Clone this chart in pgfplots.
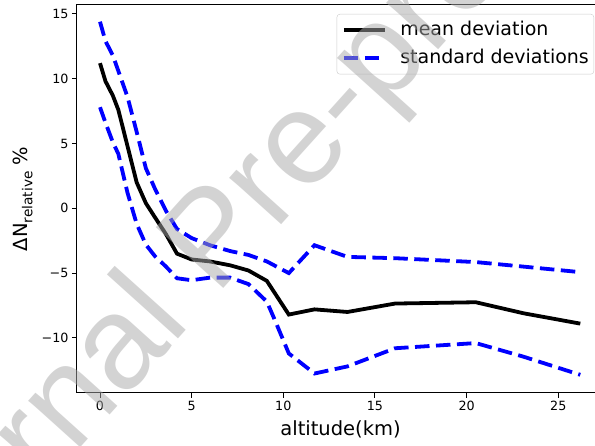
\documentclass[border=0pt]{standalone}
\usepackage{pgfplots}
\pgfplotsset{compat=1.18}
\usepackage{fontspec}
\setmainfont{DejaVu Sans}
\newfontfamily\wmfont{Liberation Sans}
\definecolor{wmgray}{RGB}{168,168,168}
\begin{document}
\begin{tikzpicture}
\begin{axis}[
    scale only axis,
    width=527.1pt, height=387.7pt,
    xmin=-1.255, xmax=27.5,
    ymin=-14.23, ymax=15.69,
    xtick={0,5,10,15,20,25},
    ytick={-10,-5,0,5,10,15},
    yticklabels={−10,−5,0,5,10,15},
    tick pos=left, tick align=outside,
    major tick length=5pt,
    tick style={line width=1pt, black},
    axis line style={line width=1pt, black},
    tick label style={font=\fontsize{12.7}{12.7}\selectfont},
    /pgf/number format/assume math mode=true,
    xlabel={altitude(km)},
    ylabel={ΔN{\fontsize{13.7}{13.7}\selectfont\raisebox{-4.5pt}{relative}} \%},
    label style={font=\fontsize{19.5}{19.5}\selectfont},
    xlabel style={anchor=base, at={(axis description cs:0.5,-0.1112)}},
    ylabel style={anchor=base, at={(axis description cs:-0.093,0.5)}},
    legend style={at={(rel axis cs:0.4927,0.9768)}, anchor=north west,
        font=\fontsize{19}{19}\selectfont,
        draw=black!20, rounded corners=3pt, fill=white,
        inner xsep=5pt, inner ysep=7pt,
        nodes={inner sep=0pt, text height=14pt, text depth=4pt},
        row sep=10pt,
        /tikz/every odd column/.append style={column sep=13pt}},
    legend cell align=left,
    legend image code/.code={\draw[#1] (0pt,0pt) -- (41.6pt,0pt);},
]
\coordinate (bl) at (rel axis cs:0,0);
% mean deviation
\addplot[black, line width=3.8pt] coordinates {
    (0,11.2) (0.3,9.8) (0.7,8.7) (1.0,7.6) (1.5,4.8) (2.0,2.0) (2.5,0.4)
    (3.0,-0.7) (3.6,-2.0) (4.2,-3.5) (5.0,-3.95) (6.0,-4.1) (7.1,-4.4)
    (8.1,-4.8) (9.1,-5.6) (10.3,-8.2) (11.7,-7.8) (13.5,-8.0) (16.1,-7.35)
    (20.5,-7.25) (23.1,-8.1) (26.2,-8.9)
};
\addlegendentry{mean deviation}
% upper standard deviation
\addplot[blue, line width=3.8pt, dash pattern=on 14.5pt off 6.5pt] coordinates {
    (0,14.4) (0.3,12.9) (0.7,11.8) (1.0,10.6) (1.5,8.6) (2.0,5.9) (2.5,3.1)
    (3.0,1.5) (3.6,-0.2) (4.2,-1.6) (5.0,-2.3) (6.0,-2.85) (7.1,-3.3)
    (8.1,-3.6) (9.1,-4.1) (10.3,-5.0) (11.7,-2.85) (13.5,-3.75) (16.1,-3.85)
    (20.5,-4.15) (23.1,-4.5) (26.0,-4.9)
};
\addlegendentry{standard deviations}
% lower standard deviation
\addplot[blue, line width=3.8pt, dash pattern=on 14.5pt off 6.5pt, forget plot] coordinates {
    (0,7.8) (0.3,6.6) (0.7,5.1) (1.0,4.2) (1.5,1.2) (2.0,-1.2) (2.5,-2.8)
    (3.0,-3.7) (3.6,-4.5) (4.2,-5.4) (5.0,-5.55) (6.0,-5.35) (7.1,-5.35)
    (8.1,-5.85) (9.1,-7.2) (9.5,-8.5) (10.3,-11.2) (11.7,-12.75) (13.5,-12.2)
    (16.1,-10.8) (20.5,-10.4) (23.1,-11.45) (26.2,-12.85)
};
\end{axis}
% watermark
\node[wmgray, opacity=0.5, rotate=48, anchor=base, inner sep=0pt,
      font=\wmfont\fontsize{132}{132}\selectfont]
    at ([shift={(166.8pt,126.2pt)}]bl) {Journal Pre-proof};
\pgfresetboundingbox
\path[use as bounding box] ([shift={(-77pt,-53.3pt)}]bl) rectangle ([shift={(518pt,392.7pt)}]bl);
\end{tikzpicture}
\end{document}
